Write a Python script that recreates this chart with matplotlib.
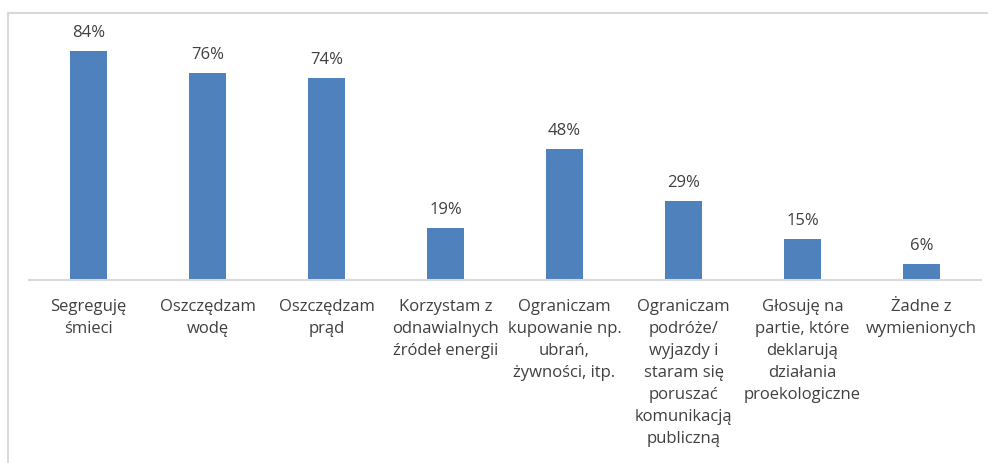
import matplotlib
matplotlib.use("Agg")
import matplotlib.pyplot as plt
from matplotlib.lines import Line2D

categories = [
    "Segreguję\nśmieci",
    "Oszczędzam\nwodę",
    "Oszczędzam\nprąd",
    "Korzystam z\nodnawialnych\nźródeł energii",
    "Ograniczam\nkupowanie np.\nubrań,\nżywności, itp.",
    "Ograniczam\npodróże/\nwyjazdy i\nstaram się\nporuszać\nkomunikacją\npubliczną",
    "Głosuję na\npartie, które\ndeklarują\ndziałania\nproekologiczne",
    "Żadne z\nwymienionych",
]
values = [84, 76, 74, 19, 48, 29, 15, 6]
value_labels = ["84%", "76%", "74%", "19%", "48%", "29%", "15%", "6%"]

W, H = 988, 464
fig = plt.figure(figsize=(W / 100, H / 100), dpi=100)
plt.rcParams['font.family'] = ['Open Sans', 'DejaVu Sans']

base_y = 281
ymax = 90
px_per = 229 / 84
ax_h = ymax * px_per
ax = fig.add_axes([29 / W, (H - base_y) / H, (981 - 29) / W, ax_h / H])

x = list(range(len(values)))
ax.bar(x, values, width=0.31, color="#4f81bd", zorder=2)
ax.set_xlim(-0.5, len(values) - 0.5)
ax.set_ylim(0, ymax)

for xi, v, lab in zip(x, values, value_labels):
    ax.annotate(lab, (xi, v), xytext=(0, 8), textcoords="offset points",
                ha="center", va="bottom", fontsize=12, color="#404040")

for s in ["top", "right", "left"]:
    ax.spines[s].set_visible(False)
ax.spines["bottom"].set_color("#d9d9d9")
ax.spines["bottom"].set_linewidth(1.5)
ax.set_yticks([])
ax.set_xticks(x)
ax.set_xticklabels(categories, fontsize=12, color="#404040", linespacing=1.5)
ax.tick_params(axis="x", length=0, pad=13)

# outer frame (left and top edges visible)
fig.add_artist(Line2D([8 / W, 8 / W], [0, 1 - 14 / H], transform=fig.transFigure,
                      color="#d9d9d9", lw=1.5))
fig.add_artist(Line2D([8 / W, 1], [1 - 14 / H, 1 - 14 / H], transform=fig.transFigure,
                      color="#d9d9d9", lw=1.5))

fig.savefig("out.png", dpi=100)
